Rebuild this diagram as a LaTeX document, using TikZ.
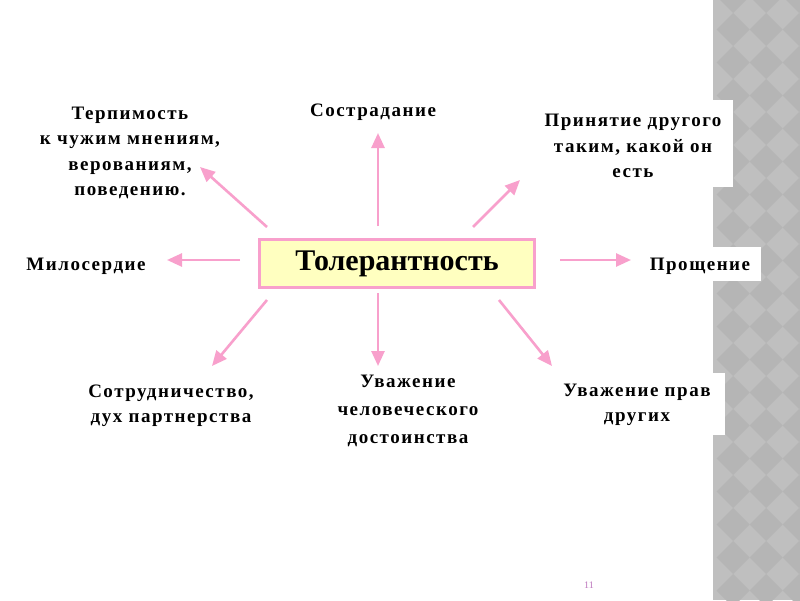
\documentclass[tikz,border=0pt]{standalone}
\usepackage{fontspec}
\setmainfont{Liberation Serif}
\newfontfamily\lblfont[LetterSpace=8]{Liberation Serif}
\usetikzlibrary{arrows.meta}
\definecolor{pinkline}{RGB}{248,160,204}
\definecolor{boxfill}{RGB}{255,255,192}
\definecolor{stripa}{RGB}{191,191,191}
\definecolor{stripb}{RGB}{181,181,181}
\definecolor{pagenum}{RGB}{190,120,190}
\begin{document}
\begin{tikzpicture}[x=1pt,y=-1pt,
  lbl/.style={font=\lblfont\bfseries\fontsize{19}{25.5}\selectfont, align=center, inner sep=0pt},
  arr/.style={draw=pinkline, line width=2.6pt, -{Triangle[length=15pt,width=13pt]}},
  tolbox/.style={draw=pinkline, line width=3pt, fill=boxfill, minimum width=275pt, minimum height=48pt, inner sep=0pt, font=\bfseries\fontsize{30}{36}\selectfont}
]
\useasboundingbox (0,0) rectangle (800,600);
\fill[white] (0,0) rectangle (800,600);
% decorative strip
\begin{scope}
  \clip (713,0) rectangle (800,600);
  \fill[stripa] (713,0) rectangle (800,600);
  \foreach \i in {0,...,3}{
    \foreach \j in {0,...,19}{
      \fill[stripb] ({733+\i*33},{13+\j*33-33}) -- ++(16.5,16.5) -- ++(-16.5,16.5) -- ++(-16.5,-16.5) -- cycle;
    }
  }
\end{scope}
% white backgrounds over strip
\fill[white] (537,100) rectangle (733,187);
\fill[white] (640,247) rectangle (761,281);
\fill[white] (549,373) rectangle (725,435);

% central node
\node[tolbox] (tol) at (397,263.5) {Толерантность};

% labels
\node[lbl] (terp) at (130,153) {Терпимость\\к чужим мнениям,\\верованиям,\\поведению.};
\node[lbl] (sost) at (373,112) {Сострадание};
\node[lbl] (prin) at (633,146) {Принятие другого\\таким, какой он\\есть};
\node[lbl] (mil) at (86,266) {Милосердие};
\node[lbl] (prosh) at (700,266) {Прощение};
\node[lbl] (sotr) at (171,406) {Сотрудничество,\\дух партнерства};
\node[lbl,font=\lblfont\bfseries\fontsize{19}{28}\selectfont] (uvch) at (408,411) {Уважение\\человеческого\\достоинства};
\node[lbl] (uvpr) at (637,405) {Уважение прав\\других};

% arrow end coordinates
\coordinate (upS) at (378,226);   \coordinate (upE) at (378,133);
\coordinate (dnS) at (378,293);   \coordinate (dnE) at (378,366);
\coordinate (urS) at (473,227);   \coordinate (urE) at (520,180);
\coordinate (drS) at (499,300);   \coordinate (drE) at (552,366);
\coordinate (ulS) at (267,227);   \coordinate (ulE) at (200,167);
\coordinate (lS) at (240,260);    \coordinate (lE) at (167,260);
\coordinate (rS) at (560,260);    \coordinate (rE) at (631,260);
\coordinate (dlS) at (267,300);   \coordinate (dlE) at (212,366);

\draw[arr] (upS) -- (upE);
\draw[arr] (dnS) -- (dnE);
\draw[arr] (urS) -- (urE);
\draw[arr] (drS) -- (drE);
\draw[arr] (ulS) -- (ulE);
\draw[arr] (lS) -- (lE);
\draw[arr] (rS) -- (rE);
\draw[arr] (dlS) -- (dlE);

% page number
\node[text=pagenum, font=\fontsize{10}{12}\selectfont, inner sep=0pt] (pg) at (589,585) {11};
\end{tikzpicture}
\end{document}
